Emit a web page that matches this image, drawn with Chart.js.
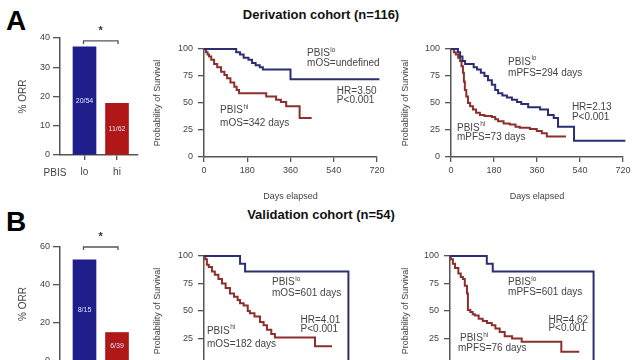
<!DOCTYPE html>
<html>
<head>
<meta charset="utf-8">
<script src="https://cdn.jsdelivr.net/npm/chart.js@4.4.0/dist/chart.umd.min.js"></script>
<style>
  html, body { margin: 0; padding: 0; background: #fff; }
  body { width: 640px; height: 360px; overflow: hidden; position: relative; font-family: "Liberation Sans", Arial, sans-serif; }
  canvas { position: absolute; }
  .letter { position: absolute; font-weight: bold; font-size: 28px; line-height: 1; color: #000; }
  .title { position: absolute; left: 0; width: 642px; text-align: center; font-weight: bold; font-size: 13px; line-height: 1; color: #111; }
</style>
</head>
<body>
<div class="letter" style="left:6px;top:7px">A</div>
<div class="title" style="top:8px">Derivation cohort (n=116)</div>
<div class="letter" style="left:6px;top:208px">B</div>
<div class="title" style="top:208px">Validation cohort (n=54)</div>

<canvas id="barA" width="150" height="190" style="left:0;top:0"></canvas>
<canvas id="osA" width="240" height="175" style="left:150px;top:30px"></canvas>
<canvas id="pfsA" width="240" height="175" style="left:395px;top:30px"></canvas>
<canvas id="barB" width="150" height="190" style="left:0;top:200px"></canvas>
<canvas id="osB" width="240" height="175" style="left:150px;top:230px"></canvas>
<canvas id="pfsB" width="240" height="175" style="left:395px;top:230px"></canvas>

<script>
// ---- data ----
const barCats = ['lo', 'hi'];
const orrA = [37.0, 17.7];
const orrB = [53.3, 15.0];
const countsA = ['20/54', '11/62'];
const countsB = ['8/15', '6/39'];

// Kaplan-Meier curves: day of each step and survival (%) after it
const osA_loDays = [0, 134, 150, 165, 185, 200, 215, 232, 245, 360, 730];
const osA_loSurv = [100, 97, 95, 92, 90, 87, 85, 83, 81, 72, 72];
const osA_hiDays = [0, 8, 15, 21, 30, 42, 55, 71, 85, 96, 110, 126, 136, 146, 259, 300, 320, 342, 398, 448];
const osA_hiSurv = [100, 97, 95, 93, 90, 86, 83, 79, 76, 73, 69, 65, 62, 59, 56, 53, 51, 47, 36, 36];

const pfsA_loDays = [0, 29, 38, 48, 59, 95, 109, 125, 140, 155, 171, 185, 197, 215, 234, 255, 276, 294, 323, 373, 406, 430, 448, 515, 730];
const pfsA_loSurv = [100, 97, 93, 89, 86, 83, 81, 78, 75, 71, 67, 62, 59, 57, 55, 53, 51, 49, 46, 44, 39, 36, 28, 15, 15];
const pfsA_hiDays = [0, 12, 20, 30, 38, 44, 50, 54, 58, 64, 71, 80, 92, 105, 121, 140, 171, 185, 197, 220, 246, 270, 288, 330, 359, 380, 401, 477];
const pfsA_hiSurv = [100, 97, 95, 92, 89, 84, 78, 70, 62, 56, 50, 47, 44, 41, 39, 38, 37, 35, 33, 31, 30, 28, 27, 26, 24, 22, 19, 18];

const osB_loDays = [0, 150, 171, 601];
const osB_loSurv = [100, 93, 86, 0];
const osB_hiDays = [0, 5, 12, 20, 33, 45, 60, 75, 90, 108, 125, 140, 150, 165, 182, 191, 210, 233, 248, 262, 280, 295, 462, 533];
const osB_hiSurv = [100, 97, 92, 90, 86, 83, 79, 75, 71, 66, 63, 60, 57, 55, 50, 48, 45, 40, 37, 33, 29, 26, 18, 18];

const pfsB_loDays = [0, 154, 179, 601];
const pfsB_loSurv = [100, 93, 86, 0];
const pfsB_hiDays = [0, 3, 12, 21, 35, 45, 54, 62, 71, 75, 85, 95, 104, 120, 137, 155, 175, 190, 208, 229, 260, 300, 466, 541];
const pfsB_hiSurv = [100, 97, 93, 89, 84, 81, 79, 73, 66, 51, 49, 47, 46, 43, 41, 39, 37, 34, 31, 27, 25, 22, 13, 13];

// text notes inside the survival plots (day, percent)
const notesOsA = [
  {day: 429, pct: 96, text: 'PBIS', sup: 'lo'},
  {day: 429, pct: 87, text: 'mOS=undefined'},
  {day: 553, pct: 61, text: 'HR=3.50'},
  {day: 553, pct: 53, text: 'P<0.001'},
  {day: 67, pct: 43, text: 'PBIS', sup: 'hi'},
  {day: 67, pct: 31, text: 'mOS=342 days'}
];
const notesPfsA = [
  {day: 239, pct: 88, text: 'PBIS', sup: 'lo'},
  {day: 239, pct: 78, text: 'mPFS=294 days'},
  {day: 506, pct: 46, text: 'HR=2.13'},
  {day: 506, pct: 37, text: 'P<0.001'},
  {day: 25, pct: 27, text: 'PBIS', sup: 'hi'},
  {day: 25, pct: 18, text: 'mPFS=73 days'}
];
const notesOsB = [
  {day: 283, pct: 76, text: 'PBIS', sup: 'lo'},
  {day: 283, pct: 66, text: 'mOS=601 days'},
  {day: 402, pct: 42, text: 'HR=4.01'},
  {day: 402, pct: 33, text: 'P<0.001'},
  {day: 12, pct: 32, text: 'PBIS', sup: 'hi'},
  {day: 12, pct: 20, text: 'mOS=182 days'}
];
const notesPfsB = [
  {day: 243, pct: 76, text: 'PBIS', sup: 'lo'},
  {day: 243, pct: 67, text: 'mPFS=601 days'},
  {day: 412, pct: 42, text: 'HR=4.62'},
  {day: 412, pct: 34, text: 'P<0.001'},
  {day: 42, pct: 25, text: 'PBIS', sup: 'hi'},
  {day: 33, pct: 16, text: 'mPFS=76 days'}
];

const FONT = '"Liberation Sans", Arial, sans-serif';
const AXIS = '#555';
const TXT = '#444';
const BAR_BLUE = '#1f1f8c';
const BAR_RED = '#b01818';
const LINE_BLUE = '#2b2f72';
const LINE_RED = '#8c2f2f';

// draw a label with an optional superscript
function drawNote(ctx, x, y, text, sup) {
  ctx.font = '10px ' + FONT;
  ctx.textAlign = 'left';
  ctx.textBaseline = 'middle';
  ctx.fillText(text, x, y);
  if (sup) {
    const w = ctx.measureText(text).width;
    ctx.font = '6.5px ' + FONT;
    ctx.fillText(sup, x + w + 0.5, y - 3.5);
  }
}

const notesPlugin = {
  id: 'notes',
  afterDatasetsDraw(chart, args, opts) {
    if (!opts.items) return;
    const ctx = chart.ctx;
    const xs = chart.scales.x, ys = chart.scales.y;
    ctx.save();
    ctx.fillStyle = TXT;
    opts.items.forEach(n => drawNote(ctx, xs.getPixelForValue(n.day), ys.getPixelForValue(n.pct), n.text, n.sup));
    ctx.restore();
  }
};

// bracket + star, bar counts, and the "PBIS" axis label
const barExtras = {
  id: 'barExtras',
  afterDraw(chart, args, opts) {
    if (opts.sigY === undefined) return;
    const ctx = chart.ctx;
    const xs = chart.scales.x, ys = chart.scales.y;
    const x0 = xs.getPixelForValue(0), x1 = xs.getPixelForValue(1);
    const y = ys.getPixelForValue(opts.sigY);
    ctx.save();
    ctx.strokeStyle = AXIS;
    ctx.lineWidth = 1.3;
    ctx.beginPath();
    ctx.moveTo(x0 - 1, y + 3);
    ctx.lineTo(x0 - 1, y);
    ctx.lineTo(x1 + 1, y);
    ctx.lineTo(x1 + 1, y + 3);
    ctx.stroke();
    ctx.fillStyle = '#333';
    ctx.font = 'bold 11px ' + FONT;
    ctx.textAlign = 'center';
    ctx.textBaseline = 'middle';
    ctx.fillText('*', (x0 + x1) / 2, y - 10);
    // counts inside the bars
    const meta = chart.getDatasetMeta(0);
    ctx.font = '7px ' + FONT;
    ctx.fillStyle = '#dde0ff';
    meta.data.forEach((bar, i) => {
      ctx.fillText(opts.counts[i], bar.x, (bar.y + bar.base) / 2);
    });
    // "PBIS" in front of the category labels
    ctx.fillStyle = TXT;
    ctx.font = '10px ' + FONT;
    ctx.fillText('PBIS', chart.chartArea.left - 5, chart.chartArea.bottom + 18);
    ctx.restore();
  }
};

function barChart(id, values, counts, yMax, yStep, sigY, padTop, xH) {
  return new Chart(document.getElementById(id), {
    type: 'bar',
    data: {
      datasets: [{
        data: barCats.map((c, i) => ({x: i, y: values[i]})),
        backgroundColor: [BAR_BLUE, BAR_RED],
        borderWidth: 0,
        barThickness: 23
      }]
    },
    options: {
      responsive: false,
      animation: false,
      layout: {padding: {top: padTop, right: 12, left: 0, bottom: 0}},
      plugins: {legend: {display: false}, tooltip: {enabled: false}, barExtras: {sigY: sigY, counts: counts}},
      scales: {
        x: {
          type: 'linear', min: -0.754, max: 1.646, offset: false,
          afterBuildTicks: s => { s.ticks = barCats.map((c, i) => ({value: i})); },
          afterFit: s => { s.height = xH; },
          grid: {drawOnChartArea: false, offset: false, tickLength: 5, color: AXIS, lineWidth: 1.3},
          border: {color: AXIS, width: 1.5},
          ticks: {callback: v => barCats[v], color: TXT, font: {family: FONT, size: 10}, padding: 6, maxRotation: 0}
        },
        y: {
          min: 0, max: yMax,
          afterFit: s => { s.width = 60; },
          grid: {drawOnChartArea: false, tickLength: 7, color: AXIS, lineWidth: 1.3},
          border: {color: AXIS, width: 1.5},
          ticks: {stepSize: yStep, color: TXT, font: {family: FONT, size: 9}, padding: 3},
          title: {display: true, text: '% ORR', color: TXT, font: {family: FONT, size: 10}, padding: {top: 17, bottom: 0}}
        }
      }
    },
    plugins: [barExtras]
  });
}

function kmChart(id, lo, hi, notes, pad) {
  const pts = (d, s) => d.map((x, i) => ({x: x, y: s[i]}));
  return new Chart(document.getElementById(id), {
    type: 'line',
    data: {
      datasets: [
        {data: pts(lo[0], lo[1]), borderColor: LINE_BLUE, borderWidth: 2, stepped: 'before', pointRadius: 0, clip: 6},
        {data: pts(hi[0], hi[1]), borderColor: LINE_RED, borderWidth: 2, stepped: 'before', pointRadius: 0, clip: 6}
      ]
    },
    options: {
      responsive: false,
      animation: false,
      layout: {padding: {top: pad.top, right: pad.right, left: 0, bottom: 0}},
      plugins: {legend: {display: false}, tooltip: {enabled: false}, notes: {items: notes}},
      scales: {
        x: {
          type: 'linear', min: 0, max: 720,
          afterFit: s => { s.height = pad.xH; },
          grid: {drawOnChartArea: false, tickLength: 5, color: AXIS, lineWidth: 1.3},
          border: {color: AXIS, width: 1.5},
          ticks: {stepSize: 180, color: TXT, font: {family: FONT, size: 9}, padding: 3, maxRotation: 0},
          title: {display: true, text: 'Days elapsed', color: TXT, font: {family: FONT, size: 9}, padding: {top: 0, bottom: 3}}
        },
        y: {
          min: 0, max: 100,
          afterFit: s => { s.width = pad.yW; },
          grid: {drawOnChartArea: false, tickLength: 6, color: AXIS, lineWidth: 1.3},
          border: {color: AXIS, width: 1.5},
          ticks: {stepSize: 25, color: TXT, font: {family: FONT, size: 9}, padding: 5},
          title: {display: true, text: 'Probability of Survival', color: TXT, font: {family: FONT, size: 9}, padding: {top: pad.titleTop, bottom: 0}}
        }
      }
    },
    plugins: [notesPlugin]
  });
}

barChart('barA', orrA, countsA, 40, 10, 39, 38, 35);
barChart('barB', orrB, countsB, 60, 20, 60, 47, 29);

kmChart('osA', [osA_loDays, osA_loSurv], [osA_hiDays, osA_hiSurv], notesOsA, {top: 19, right: 13, yW: 54, xH: 48, titleTop: 2});
kmChart('pfsA', [pfsA_loDays, pfsA_loSurv], [pfsA_hiDays, pfsA_hiSurv], notesPfsA, {top: 19, right: 12, yW: 56, xH: 48, titleTop: 5});
kmChart('osB', [osB_loDays, osB_loSurv], [osB_hiDays, osB_hiSurv], notesOsB, {top: 26, right: 13, yW: 54, xH: 39, titleTop: 2});
kmChart('pfsB', [pfsB_loDays, pfsB_loSurv], [pfsB_hiDays, pfsB_hiSurv], notesPfsB, {top: 26, right: 13, yW: 55, xH: 39, titleTop: 5});
</script>
</body>
</html>
